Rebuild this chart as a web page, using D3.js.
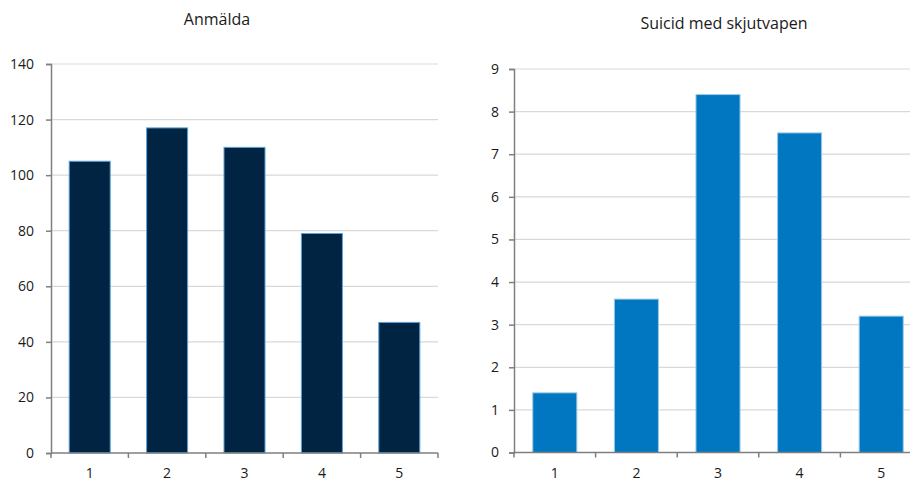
<!DOCTYPE html>
<html>
<head>
<meta charset="utf-8">
<script src="https://cdn.jsdelivr.net/npm/d3@7"></script>
<style>
  body { margin: 0; background: #fff; }
  svg { display: block; font-family: "Open Sans", "Noto Sans", sans-serif; }
</style>
</head>
<body>
<svg id="chart" width="910" height="481"></svg>
<script>
// Categories shared by both panels
const categories = ["1", "2", "3", "4", "5"];

// Panel 1: Anmälda
const anmaldaValues = [105, 117, 110, 79, 47];
const anmaldaTicks = [0, 20, 40, 60, 80, 100, 120, 140];

// Panel 2: Suicid med skjutvapen
const suicidValues = [1.4, 3.6, 8.4, 7.5, 3.2];
const suicidTicks = [0, 1, 2, 3, 4, 5, 6, 7, 8, 9];

const svg = d3.select("#chart");

function panel(cfg) {
  const g = svg.append("g");
  const x = d3.scaleBand().domain(categories).range([cfg.x0, cfg.x1]).paddingInner(cfg.pad).paddingOuter(cfg.pad / 2);
  const y = d3.scaleLinear().domain([0, cfg.max]).range([cfg.y0, cfg.y1]);

  // gridlines
  g.selectAll("line.grid").data(cfg.ticks.filter(t => t > 0)).join("line")
    .attr("x1", cfg.x0).attr("x2", cfg.gridEnd)
    .attr("y1", d => y(d)).attr("y2", d => y(d))
    .attr("stroke", "#d9d9d9").attr("stroke-width", 1.2);

  // bars
  g.selectAll("rect.bar").data(cfg.values).join("rect")
    .attr("x", (d, i) => x(categories[i]))
    .attr("width", x.bandwidth())
    .attr("y", d => y(d))
    .attr("height", d => y(0) - y(d))
    .attr("fill", cfg.color)
    .attr("stroke", cfg.stroke).attr("stroke-width", 1);

  // y axis
  const yAxis = d3.axisLeft(y).tickValues(cfg.ticks).tickSize(5).tickPadding(cfg.tickPad).tickFormat(d3.format("d"));
  const ya = g.append("g").attr("transform", `translate(${cfg.x0},0)`).call(yAxis);
  ya.select(".domain").attr("stroke", "#7f7f7f").attr("stroke-width", 1.5);
  ya.selectAll(".tick line").attr("stroke", "#7f7f7f").attr("stroke-width", 1.5);
  ya.selectAll("text").attr("font-size", 14).attr("fill", "#1a1a1a").style("font-family", "'Open Sans', sans-serif");

  // x axis with ticks at band boundaries
  const xa = g.append("g").attr("transform", `translate(0,${cfg.y0})`);
  xa.append("line").attr("x1", cfg.x0).attr("x2", cfg.x1).attr("stroke", "#7f7f7f").attr("stroke-width", 1.5);
  const step = (cfg.x1 - cfg.x0) / categories.length;
  xa.selectAll("line.tk").data(d3.range(categories.length + 1)).join("line")
    .attr("x1", i => cfg.x0 + i * step).attr("x2", i => cfg.x0 + i * step)
    .attr("y1", 0).attr("y2", 5).attr("stroke", "#7f7f7f").attr("stroke-width", 1.5);
  xa.selectAll("text").data(categories).join("text")
    .attr("x", d => x(d) + x.bandwidth() / 2)
    .attr("y", 25)
    .attr("text-anchor", "middle")
    .attr("font-size", 14).attr("fill", "#1a1a1a")
    .text(d => d);

  // title
  g.append("text").attr("x", cfg.titleX).attr("y", cfg.titleY)
    .attr("text-anchor", "middle").attr("font-size", 16).attr("fill", "#1a1a1a")
    .text(cfg.title);
}

panel({
  title: "Anmälda", titleX: 217, titleY: 25,
  values: anmaldaValues, ticks: anmaldaTicks, max: 140,
  x0: 51, x1: 438, gridEnd: 438, y0: 453, y1: 64,
  pad: 0.47, tickPad: 12,
  color: "#002442", stroke: "#5ba3d9"
});

panel({
  title: "Suicid med skjutvapen", titleX: 724, titleY: 29,
  values: suicidValues, ticks: suicidTicks, max: 9,
  x0: 514, x1: 922, gridEnd: 910, y0: 452.5, y1: 69,
  pad: 0.46, tickPad: 10,
  color: "#0077c0", stroke: "#9cc8e8"
});
</script>
</body>
</html>
